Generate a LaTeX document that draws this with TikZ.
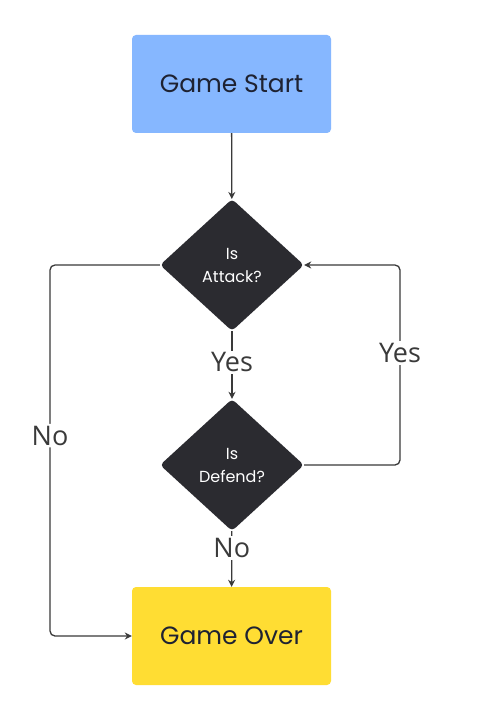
\documentclass[tikz,border=0pt]{standalone}
\usepackage{fontspec}
\setmainfont{Poppins}
\newfontfamily\labelfont{Open Sans}
\usetikzlibrary{shapes.geometric,arrows.meta}

\definecolor{startblue}{HTML}{86B7FF}
\definecolor{overyellow}{HTML}{FFDD33}
\definecolor{diadark}{HTML}{2B2B30}
\definecolor{linegray}{HTML}{3A3A3A}
\definecolor{boxtext}{HTML}{1E2232}

\tikzset{
	box/.style={shape=rectangle,rounded corners=4pt,minimum width=199pt,minimum height=98pt,
		text=boxtext,font=\fontsize{25}{28}\selectfont},
	decide/.style={shape=diamond,fill=diadark,rounded corners=4pt,inner sep=0pt,
		minimum width=144pt,minimum height=132pt,text=white,align=center,
		font=\fontsize{16}{23}\selectfont},
	flow/.style={-{Stealth[length=7pt,width=7pt]},draw=linegray,line width=1.3pt},
	answer/.style={fill=white,inner sep=2pt,text=linegray,font=\labelfont\fontsize{27}{30}\selectfont}
}

\begin{document}
\begin{tikzpicture}[x=1pt,y=-1pt]
	\useasboundingbox[fill=white] (0,0) rectangle (503,714);
	
	\node[box,fill=startblue] (start) at (231.5, 84)  {Game Start};
	\node[decide] (attack) at (232, 265) {Is\\Attack?};
	\node[decide] (defend) at (232, 465) {Is\\Defend?};
	\node[box,fill=overyellow] (over) at (231.5, 636) {Game Over};
	
	\coordinate (nobend) at (50, 265);
	\coordinate (yesbend) at (400, 465);
	
	\path[flow] (start) edge (attack);
	\path[flow] (attack) edge node[answer,pos=0.46]{Yes} (defend);
	\path[flow] (defend) edge node[answer,pos=0.3]{No} (over);
	\draw[flow,rounded corners=5pt] (attack.west) -- (nobend) |- node[answer,pos=0.23]{No} (over.west);
	\draw[flow,rounded corners=5pt] (defend.east) -- (yesbend) |- node[answer,pos=0.28]{Yes} (attack.east);
	
\end{tikzpicture}
\end{document}
